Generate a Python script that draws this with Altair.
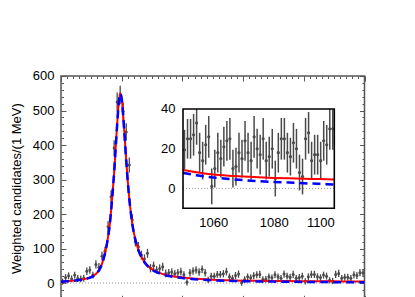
import altair as alt
import pandas as pd

# ---- data -------------------------------------------------------------
bin_centres = [1000.5 + i for i in range(100)]

counts = [4, 16, 21, 12, 23, 13, 12, 14, 34, 38,
          23, 54, 46, 78, 92, 163, 250, 391, 525, 545,
          497, 438, 342, 183, 120, 105, 81, 70, 86, 43,
          50, 38, 42, 47, 28, 30, 32, 27, 30, 33,
          24, 2, 30, 35, 38, 32, 40, 30, 9, 20,
          19.5, 25, 25, 27, 33, 18, 14, 22, 26, 1,
          10, 18, 15, 21, 24, 25, 10, 11, 18, 15,
          24, 18, 14, 26, 20, 17, 25, 14, 16, 20,
          5, 18, 25, 25, 18, 16, 23, 20, 8, 6,
          25, 28, 14, 17, 17, 14, 24, 22, 30, 30]

errors = [9, 10, 10, 10, 10, 10, 10, 10, 11, 11,
          10, 12, 12, 13, 13, 16, 19, 23, 27, 27,
          26, 25, 22, 16, 14, 14, 13, 13, 13, 12,
          12, 11, 12, 12, 11, 11, 11, 11, 11, 11,
          10, 9, 11, 11, 11, 11, 11, 11, 9, 10,
          10, 10, 10, 10.5, 11, 10, 9.5, 10, 10.5, 9,
          9.5, 10, 9.5, 10, 10, 10.5, 9.5, 9.5, 10, 9.5,
          10, 10, 9.5, 10.5, 10, 10, 10.5, 9.5, 10, 10,
          9, 10, 10.5, 10.5, 10, 9.5, 10, 10, 9, 9,
          10.5, 10.5, 9.5, 10, 10, 9.5, 10, 10, 10.5, 10.5]

curve_x = [1000, 1002, 1004, 1006, 1008, 1010, 1011, 1012, 1013, 1014,
           1015, 1015.5, 1016, 1016.5, 1017, 1017.5, 1018, 1018.5, 1019, 1019.5,
           1020, 1020.5, 1021, 1021.5, 1022, 1022.5, 1023, 1023.5, 1024, 1025,
           1026, 1027, 1028, 1029, 1030, 1032, 1034, 1036, 1038, 1040,
           1043, 1046, 1050, 1055, 1060, 1065, 1070, 1075, 1080, 1085,
           1090, 1095, 1100]

red_fit = [4, 5.5, 7, 9, 12, 18, 23, 31, 45, 70,
           108, 134, 165, 210, 262, 320, 390, 460, 520, 550,
           535, 485, 420, 355, 295, 245, 205, 172, 146, 110,
           85, 68, 56, 47, 40, 31, 25, 21, 18.5, 16,
           13.5, 11.5, 9.3, 8, 7, 6.4, 6, 5.6, 5.3, 5.1,
           4.9, 4.7, 4.5]

blue_fit = [3.5, 5, 6.5, 8.5, 11.5, 17, 22, 30, 44, 69,
            107, 133, 164, 209, 261, 319, 389, 459, 519, 549,
            534, 484, 419, 354, 294, 244, 204, 171, 145, 109,
            84, 67, 54.5, 45.5, 38.5, 29.5, 23.5, 19.5, 17, 14.5,
            12, 10, 7.8, 6.5, 5.5, 4.8, 4.2, 3.7, 3.3, 3.0,
            2.6, 2.3, 2.0]

main_x_major = [1000, 1020, 1040, 1060, 1080, 1100]
main_x_minor = [1000 + 2 * i for i in range(51)]
main_y_major = [0, 100, 200, 300, 400, 500, 600]
main_y_minor = [-40 + 20 * i for i in range(33)]
ins_x_major = [1060, 1080, 1100]
ins_x_minor = [1050 + 2 * i for i in range(26)]
ins_y_major = [0, 20, 40]
ins_y_minor = [-8 + 4 * i for i in range(13)]

ytitle = "Weighted candidates/(1 MeV)"

# ---- tables -----------------------------------------------------------
pts = pd.DataFrame({"x": bin_centres, "c": counts, "e": errors})
fit = pd.DataFrame({"x": curve_x, "red": red_fit, "blue": blue_fit})
zero_main = pd.DataFrame({"x0": [1000], "x1": [1100], "y": [0]})
zero_ins = pd.DataFrame({"x0": [1050], "x1": [1100], "y": [0]})
frame_ins = pd.DataFrame({"x0": [1050], "x1": [1100], "y0": [-10], "y1": [40]})

W, H = 303.5, 224.3
IL, IR, IT, IB = 122, 273.3, 33, 132.3


def xm():
    return alt.Scale(domain=[1000, 1100], nice=False, zero=False)


def ym():
    return alt.Scale(domain=[-50, 600], nice=False, zero=False)


def xi():
    return alt.Scale(domain=[1050, 1100], range=[IL, IR], nice=False, zero=False)


def yi():
    return alt.Scale(domain=[-10, 40], range=[IB, IT], nice=False, zero=False)


GREY = "#4a4a4a"

layers = []

# main plot
layers.append(alt.Chart(zero_main).mark_rule(color="#999999", strokeDash=[1, 2], strokeWidth=1).encode(
    x=alt.X("x0:Q", scale=xm(), axis=None), x2="x1:Q",
    y=alt.Y("y:Q", scale=ym(), axis=None)))
layers.append(alt.Chart(pts).transform_calculate(
    lo="datum.c - datum.e", hi="datum.c + datum.e").mark_rule(color=GREY, strokeWidth=1.3).encode(
    x=alt.X("x:Q", scale=xm(), axis=None),
    y=alt.Y("lo:Q", scale=ym(), axis=None), y2="hi:Q"))
layers.append(alt.Chart(pts).mark_circle(color=GREY, size=9, opacity=1).encode(
    x=alt.X("x:Q", scale=xm(), axis=None),
    y=alt.Y("c:Q", scale=ym(), axis=None)))
layers.append(alt.Chart(fit).mark_line(color="#ff0000", strokeWidth=2, interpolate="monotone").encode(
    x=alt.X("x:Q", scale=xm(), axis=None),
    y=alt.Y("red:Q", scale=ym(), axis=None)))
layers.append(alt.Chart(fit).mark_line(color="#0000ff", strokeWidth=2.5, strokeDash=[8, 5],
                                       interpolate="monotone").encode(
    x=alt.X("x:Q", scale=xm(), axis=None),
    y=alt.Y("blue:Q", scale=ym(), axis=None)))

# inset
layers.append(alt.Chart(frame_ins).mark_rect(fill="white", stroke=None).encode(
    x=alt.X("x0:Q", scale=xi(), axis=None), x2="x1:Q",
    y=alt.Y("y0:Q", scale=yi(), axis=None), y2="y1:Q"))
layers.append(alt.Chart(zero_ins).mark_rule(color="#999999", strokeDash=[1, 2], strokeWidth=1).encode(
    x=alt.X("x0:Q", scale=xi(), axis=None), x2="x1:Q",
    y=alt.Y("y:Q", scale=yi(), axis=None)))
layers.append(alt.Chart(pts).transform_filter("datum.x >= 1050").transform_calculate(
    lo="max(datum.c - datum.e, -10)", hi="min(datum.c + datum.e, 40)").mark_rule(
    color=GREY, strokeWidth=1.5).encode(
    x=alt.X("x:Q", scale=xi(), axis=None),
    y=alt.Y("lo:Q", scale=yi(), axis=None), y2="hi:Q"))
layers.append(alt.Chart(pts).transform_filter("datum.x >= 1050").mark_circle(
    color=GREY, size=10, opacity=1).encode(
    x=alt.X("x:Q", scale=xi(), axis=None),
    y=alt.Y("c:Q", scale=yi(), axis=None)))
layers.append(alt.Chart(fit).transform_filter("datum.x >= 1050").mark_line(
    color="#ff0000", strokeWidth=2, interpolate="monotone").encode(
    x=alt.X("x:Q", scale=xi(), axis=None),
    y=alt.Y("red:Q", scale=yi(), axis=None)))
layers.append(alt.Chart(fit).transform_filter("datum.x >= 1050").mark_line(
    color="#0000ff", strokeWidth=2.5, strokeDash=[8, 5], interpolate="monotone").encode(
    x=alt.X("x:Q", scale=xi(), axis=None),
    y=alt.Y("blue:Q", scale=yi(), axis=None)))
layers.append(alt.Chart(frame_ins).mark_rect(fill=None, stroke="black", strokeWidth=1.6).encode(
    x=alt.X("x0:Q", scale=xi(), axis=None), x2="x1:Q",
    y=alt.Y("y0:Q", scale=yi(), axis=None), y2="y1:Q"))


def tick_layer(channel, scale, values, orient, tick_len, offset=0, color="#555555"):
    ax = alt.Axis(orient=orient, values=values, domain=False, grid=False, labels=False, ticks=True,
                  tickSize={"expr": str(-tick_len)}, tickColor=color, tickWidth=1, title="",
                  offset=offset)
    df = pd.DataFrame({"v": values})
    if channel == "x":
        return alt.Chart(df).mark_point(opacity=0).encode(x=alt.X("v:Q", scale=scale, axis=ax))
    return alt.Chart(df).mark_point(opacity=0).encode(y=alt.Y("v:Q", scale=scale, axis=ax))


# main axes: y labels + title
layers.append(alt.Chart(pd.DataFrame({"v": main_y_major})).mark_point(opacity=0).encode(
    y=alt.Y("v:Q", scale=ym(), axis=alt.Axis(
        orient="left", values=main_y_major, domain=False, grid=False, ticks=False,
        labelPadding=7, title=ytitle, titlePadding=9))))
for orient in ["left", "right"]:
    layers.append(tick_layer("y", ym(), main_y_major, orient, 5))
    layers.append(tick_layer("y", ym(), main_y_minor, orient, 2.5))
for orient in ["bottom", "top"]:
    layers.append(tick_layer("x", xm(), main_x_major, orient, 5))
    layers.append(tick_layer("x", xm(), main_x_minor, orient, 2.5))

# inset axes (placed with offsets)
layers.append(alt.Chart(pd.DataFrame({"v": ins_y_major})).mark_point(opacity=0).encode(
    y=alt.Y("v:Q", scale=yi(), axis=alt.Axis(
        orient="left", values=ins_y_major, domain=False, grid=False, ticks=False,
        labelPadding=8, title="", format="d", offset=-IL))))
for orient, off in [("left", -IL), ("right", -(W - IR))]:
    layers.append(tick_layer("y", yi(), ins_y_major, orient, 5, off, "#333333"))
    layers.append(tick_layer("y", yi(), ins_y_minor, orient, 2.5, off, "#333333"))
layers.append(alt.Chart(pd.DataFrame({"v": ins_x_major})).mark_point(opacity=0).encode(
    x=alt.X("v:Q", scale=xi(), axis=alt.Axis(
        orient="bottom", values=ins_x_major, domain=False, grid=False, ticks=False,
        labelPadding=8, title="", format="d", offset=-(H - IB)))))
for orient, off in [("bottom", -(H - IB)), ("top", -IT)]:
    layers.append(tick_layer("x", xi(), ins_x_major, orient, 5, off, "#333333"))
    layers.append(tick_layer("x", xi(), ins_x_minor, orient, 2.5, off, "#333333"))

chart = alt.layer(*layers).resolve_scale(x="independent", y="independent").resolve_axis(
    x="independent", y="independent").properties(
    width=W, height=H,
    autosize=alt.AutoSizeParams(type="none"),
    padding={"left": 53, "top": 68, "right": 30, "bottom": 50},
).configure_view(stroke="#555555", strokeWidth=1.5).configure_axis(
    labelFont="Liberation Sans", labelFontSize=13, labelColor="black",
    titleFont="Liberation Sans", titleFontSize=13, titleFontWeight="normal", titleColor="black",
)

chart.save("out.html", embed_options={"renderer": "svg", "actions": False})
